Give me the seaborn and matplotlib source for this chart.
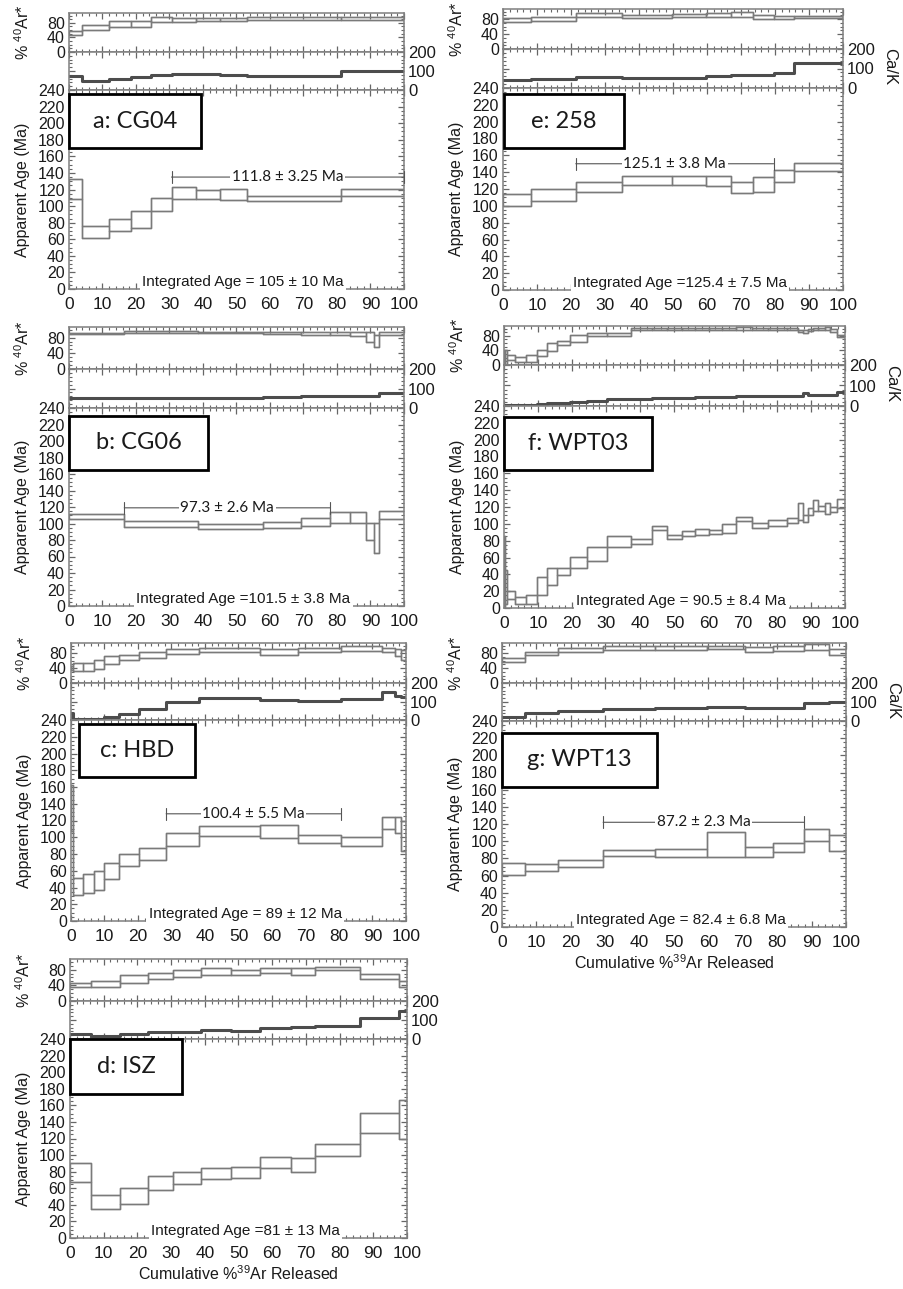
import matplotlib
matplotlib.use("Agg")
import numpy as np
import pandas as pd
import matplotlib.pyplot as plt
import seaborn as sns
from matplotlib.ticker import MultipleLocator, NullFormatter
from matplotlib.patches import Rectangle

sns.set_theme(style="white")
plt.rcParams["font.family"] = ["Liberation Sans", "DejaVu Sans"]
plt.rcParams["mathtext.fontset"] = "custom"
plt.rcParams["mathtext.rm"] = "Liberation Sans"
plt.rcParams["mathtext.it"] = "Liberation Sans:italic"

# ------------------------------------------------------------------ data
# a: CG04
A_EDGES = [0, 4, 12, 18.4, 24.4, 30.6, 37.8, 45.1, 53, 81.2, 100]
A_AGE_HI = [133, 76, 85, 94, 110, 123, 120, 121, 112, 121]
A_AGE_LO = [108, 61, 70, 74, 94, 108, 108, 107, 106, 112]
A_AR_HI = [57, 75, 85, 85, 95, 94, 94, 94, 97, 97]
A_AR_LO = [47, 61, 68, 68, 81, 83, 85, 85, 88, 88]
A_CAK = [75, 50, 57, 66, 77, 85, 82, 77, 75, 99]
A_PLATEAU = ["111.8 ± 3.25 Ma", 30.6, 100, 135]
A_INTEGRATED = "Integrated Age = 105 ± 10 Ma"

# b: CG06
B_EDGES = [0, 16.5, 38.6, 58, 69.4, 78, 83.9, 88.7, 91.0, 92.4, 100]
B_AGE_HI = [112, 103, 99, 102, 107, 114, 114, 101, 101, 115]
B_AGE_LO = [106, 96, 93, 94, 97, 101, 101, 80, 64, 105]
B_AR_HI = [92, 97, 95, 93, 95, 95, 95, 95, 86, 93]
B_AR_LO = [88, 92, 91, 89, 86, 86, 84, 68, 57, 86]
B_CAK = [50, 50, 50, 55, 59, 64, 64, 60, 60, 78]
B_PLATEAU = ["97.3 ± 2.6 Ma", 16.5, 78, 119]
B_INTEGRATED = "Integrated Age =101.5 ± 3.8 Ma"

# c: HBD
C_EDGES = [0, 0.7, 3.6, 6.8, 9.8, 14.4, 20.3, 28.4, 38.3, 56.3, 67.7, 80.5, 92.7, 96.7, 98.5, 100]
C_AGE_HI = [162, 51, 56, 60, 69, 80, 87, 105, 114, 115, 103, 100, 124, 124, 119]
C_AGE_LO = [108, 31, 33, 37, 50, 66, 73, 89, 101, 99, 93, 89, 110, 105, 84]
C_AR_HI = [45, 54, 54, 61, 71, 75, 84, 91, 94, 91, 94, 99, 94, 91, 88]
C_AR_LO = [35, 32, 32, 37, 52, 61, 68, 77, 82, 75, 82, 85, 82, 73, 61]
C_CAK = [40, 4, 3, 5, 14, 32, 59, 98, 120, 109, 105, 116, 150, 130, 123]
C_PLATEAU = ["100.4 ± 5.5 Ma", 28.4, 80.5, 128]
C_INTEGRATED = "Integrated Age = 89 ± 12 Ma"

# d: ISZ
D_EDGES = [0, 6.2, 14.9, 23.0, 30.7, 38.9, 47.7, 56.5, 65.6, 72.6, 86.1, 97.6, 100]
D_AGE_HI = [91, 52, 60, 75, 80, 85, 86, 98, 97, 113, 151, 166]
D_AGE_LO = [68, 35, 41, 58, 65, 71, 72, 85, 79, 99, 127, 119]
D_AR_HI = [45, 52, 65, 72, 78, 83, 80, 83, 83, 87, 68, 50]
D_AR_LO = [35, 35, 46, 56, 62, 67, 67, 72, 67, 80, 56, 36]
D_CAK = [24, 17, 28, 35, 38, 49, 43, 56, 65, 71, 108, 148]
D_PLATEAU = None
D_INTEGRATED = "Integrated Age =81 ± 13 Ma"

# e: 258
E_EDGES = [0, 8.35, 21.4, 35, 49.6, 59.7, 67.1, 73.5, 79.6, 85.5, 100]
E_AGE_HI = [114, 120, 128, 136, 136, 136, 128, 134, 142, 151]
E_AGE_LO = [100, 106, 116, 125, 125, 124, 115, 117, 128, 141]
E_AR_HI = [83, 86, 96, 92, 94, 95, 98, 92, 87, 89]
E_AR_LO = [71, 75, 85, 83, 85, 85, 86, 80, 80, 82]
E_CAK = [43, 48, 56, 53, 51, 63, 65, 67, 77, 128]
E_PLATEAU = ["125.1 ± 3.8 Ma", 21.4, 79.6, 150]
E_INTEGRATED = "Integrated Age =125.4 ± 7.5 Ma"

# f: WPT03
F_EDGES = [0, 0.4, 0.9, 3.3, 6.45, 9.8, 12.7, 15.6, 19.5, 24.2, 30.3, 37.1, 43.3, 47.7,
           52.1, 56.0, 60.2, 63.8, 68.0, 72.6, 77.5, 82.9, 86.3, 87.8, 89.2, 90.7,
           92.2, 94.1, 95.6, 97.8, 100]
F_AGE_HI = [85, 45, 20, 13, 16, 37, 47, 48, 61, 72, 86, 82, 98, 87, 92, 94, 93, 100,
            108, 101, 105, 107, 125, 111, 119, 128, 121, 125, 120, 129]
F_AGE_LO = [0, 5, 11, 5, 5, 16, 27, 39, 47, 56, 72, 76, 93, 82, 85, 87, 88, 89, 103,
            95, 97, 101, 105, 102, 110, 115, 115, 112, 114, 119]
F_AR_HI = [40, 40, 28, 23, 28, 41, 61, 67, 83, 89, 87, 101, 102, 101, 102, 101, 102,
           101, 103, 102, 102, 101, 97, 96, 99, 101, 102, 103, 100, 83]
F_AR_LO = [0, 0, 13, 7, 9, 25, 39, 55, 64, 80, 80, 95, 96, 95, 96, 95, 96, 95, 97, 96,
           96, 95, 90, 89, 92, 95, 96, 97, 90, 76]
F_CAK = [5, 5, 5, 5, 5, 8, 13, 13, 21, 26, 33, 34, 41, 41, 41, 46, 46, 46, 49, 49, 49,
         50, 50, 62, 55, 55, 56, 56, 56, 67]
F_PLATEAU = None
F_INTEGRATED = "Integrated Age = 90.5 ± 8.4 Ma"

# g: WPT13
G_EDGES = [0, 6.6, 16.3, 29.4, 44.6, 59.6, 70.6, 78.9, 87.9, 95.0, 100]
G_AGE_HI = [75, 73, 78, 90, 91, 111, 93, 98, 114, 107]
G_AGE_LO = [61, 65, 70, 83, 82, 82, 82, 87, 100, 88]
G_AR_HI = [68, 84, 93, 98, 98, 100, 95, 98, 105, 91]
G_AR_LO = [55, 75, 84, 89, 89, 91, 84, 85, 89, 75]
G_CAK = [23, 41, 55, 64, 67, 74, 71, 71, 94, 99]
G_PLATEAU = ["87.2 ± 2.3 Ma", 29.4, 87.9, 122]
G_INTEGRATED = "Integrated Age = 82.4 ± 6.8 Ma"

SAMPLE_LABELS = ["a: CG04", "b: CG06", "c: HBD", "d: ISZ", "e: 258", "f: WPT03", "g: WPT13"]
X_TICKS = [0, 10, 20, 30, 40, 50, 60, 70, 80, 90, 100]
AGE_TICKS = list(range(0, 241, 20))
AR_TICKS = [0, 40, 80]
CAK_TICKS = [0, 100, 200]

PANEL_DATA = [
    (A_EDGES, A_AGE_LO, A_AGE_HI, A_AR_LO, A_AR_HI, A_CAK, A_PLATEAU, A_INTEGRATED),
    (B_EDGES, B_AGE_LO, B_AGE_HI, B_AR_LO, B_AR_HI, B_CAK, B_PLATEAU, B_INTEGRATED),
    (C_EDGES, C_AGE_LO, C_AGE_HI, C_AR_LO, C_AR_HI, C_CAK, C_PLATEAU, C_INTEGRATED),
    (D_EDGES, D_AGE_LO, D_AGE_HI, D_AR_LO, D_AR_HI, D_CAK, D_PLATEAU, D_INTEGRATED),
    (E_EDGES, E_AGE_LO, E_AGE_HI, E_AR_LO, E_AR_HI, E_CAK, E_PLATEAU, E_INTEGRATED),
    (F_EDGES, F_AGE_LO, F_AGE_HI, F_AR_LO, F_AR_HI, F_CAK, F_PLATEAU, F_INTEGRATED),
    (G_EDGES, G_AGE_LO, G_AGE_HI, G_AR_LO, G_AR_HI, G_CAK, G_PLATEAU, G_INTEGRATED),
]

# ------------------------------------------------------------------ layout (pixels)
W, H = 904, 1289
# x0, x1, top, ar_bottom, cak_bottom, age_bottom
LAYOUT = [
    (69, 404, 13, 52, 90, 289),
    (69, 404, 327, 369, 408, 606),
    (71, 406, 643, 683, 720, 921),
    (70, 407, 959, 1001, 1039, 1238),
    (503, 843, 9, 49, 88, 290),
    (504, 845, 326, 365, 406, 608),
    (502, 846, 643, 683, 721, 927),
]
BOXES = [
    (69, 94, 201, 148),
    (69, 416, 208, 470),
    (79, 724, 195, 777),
    (70, 1039, 182, 1094),
    (504, 94, 624, 148),
    (504, 417, 652, 470),
    (502, 733, 657, 787),
]
SHOW_XLABEL = [False, False, False, True, False, False, True]
SHOW_CAK_LABEL = [False, False, False, False, True, True, True]

LINE = "#7a7a7a"
SPINE = "#7f7f7f"
TXT = "#1a1a1a"

fig = plt.figure(figsize=(W / 100, H / 100), dpi=100)
fig.patch.set_facecolor("white")


def px_rect(x0, x1, yt, yb):
    return [x0 / W, 1 - yb / H, (x1 - x0) / W, (yb - yt) / H]


def boxes_frame(edges, lo, hi):
    rows = []
    for i in range(len(lo)):
        x0, x1 = edges[i], edges[i + 1]
        for x, y in [(x0, lo[i]), (x0, hi[i]), (x1, hi[i]), (x1, lo[i]), (x0, lo[i])]:
            rows.append((i, x, y))
    return pd.DataFrame(rows, columns=["step", "x", "y"])


def draw_spectrum(ax, edges, lo, hi, color, lw):
    # each heating step as a box
    sns.lineplot(data=boxes_frame(edges, lo, hi), x="x", y="y", units="step",
                 estimator=None, sort=False, color=color, lw=lw, ax=ax, legend=False)
    # upper and lower envelopes joined as step lines
    for vals in (hi, lo):
        df = pd.DataFrame({"x": edges, "y": list(vals) + [vals[-1]]})
        sns.lineplot(data=df, x="x", y="y", estimator=None, sort=False, color=color,
                     lw=lw, drawstyle="steps-post", ax=ax, legend=False)


def style(ax, ymajor, yminor):
    ax.set_xlim(0, 100)
    ax.xaxis.set_major_locator(MultipleLocator(10))
    ax.xaxis.set_minor_locator(MultipleLocator(2))
    ax.yaxis.set_major_locator(MultipleLocator(ymajor))
    ax.yaxis.set_minor_locator(MultipleLocator(yminor))
    for sp in ax.spines.values():
        sp.set_color(SPINE)
        sp.set_linewidth(1.1)
        sp.set_visible(True)
    ax.tick_params(which="both", direction="in", top=True, bottom=True, left=True,
                   right=True, color="#666666", labelcolor=TXT, labelsize=11.5)
    ax.tick_params(which="major", length=4, width=0.9)
    ax.tick_params(which="minor", length=2.2, width=0.8)
    ax.set_facecolor("white")
    ax.grid(False)


for k, (data, lay) in enumerate(zip(PANEL_DATA, LAYOUT)):
    edges, age_lo, age_hi, ar_lo, ar_hi, cak, plateau, integrated = data
    x0, x1, top, arb, cakb, ageb = lay

    ax_ar = fig.add_axes(px_rect(x0, x1, top, arb))
    ax_ck = fig.add_axes(px_rect(x0, x1, arb, cakb))
    ax_ag = fig.add_axes(px_rect(x0, x1, cakb, ageb))

    # % 40Ar*
    draw_spectrum(ax_ar, edges, ar_lo, ar_hi, LINE, 1.0)
    ax_ar.set_ylim(0, 107)
    style(ax_ar, 40, 10)
    ax_ar.set_yticks(AR_TICKS)
    ax_ar.xaxis.set_major_formatter(NullFormatter())
    ax_ar.tick_params(labelbottom=False, pad=3)
    ax_ar.set_xlabel("")
    ax_ar.set_ylabel(r"% $^{\mathrm{40}}$Ar*", fontsize=11.5, color=TXT)
    ax_ar.yaxis.label.set_va("center")
    ax_ar.yaxis.set_label_coords(-46 / (x1 - x0), 0.5)

    # Ca/K
    cak_df = pd.DataFrame({"x": edges, "y": list(cak) + [cak[-1]]})
    sns.lineplot(data=cak_df, x="x", y="y", estimator=None, sort=False, color="#4d4d4d",
                 lw=2.2, drawstyle="steps-post", ax=ax_ck, legend=False)
    ax_ck.set_ylim(0, 200)
    style(ax_ck, 100, 20)
    ax_ck.set_yticks(CAK_TICKS)
    ax_ck.tick_params(labelbottom=False, labelleft=False, labelright=True, pad=3)
    ax_ck.tick_params(axis="y", labelsize=12)
    ax_ck.set_xlabel("")
    ax_ck.set_ylabel("")
    if SHOW_CAK_LABEL[k]:
        ax_ck.text(1 + 47 / (x1 - x0), 0.55, "Ca/K", transform=ax_ck.transAxes,
                   rotation=-90, ha="center", va="center", fontsize=12, color=TXT)

    # Apparent age spectrum
    draw_spectrum(ax_ag, edges, age_lo, age_hi, LINE, 1.0)
    ax_ag.set_ylim(0, 240)
    style(ax_ag, 20, 5)
    ax_ag.set_yticks(AGE_TICKS)
    ax_ag.set_xticks(X_TICKS)
    ax_ag.tick_params(axis="x", pad=6, labelsize=12.5)
    ax_ag.tick_params(axis="y", pad=3)
    ax_ag.set_ylabel("Apparent Age (Ma)", fontsize=11.5, color=TXT)
    ax_ag.yaxis.label.set_va("center")
    ax_ag.yaxis.set_label_coords(-46 / (x1 - x0), 0.5)
    if SHOW_XLABEL[k]:
        ax_ag.set_xlabel(r"Cumulative %$^{\mathrm{39}}$Ar Released", fontsize=11.5,
                         color=TXT, labelpad=2)
    else:
        ax_ag.set_xlabel("")

    if plateau is not None:
        label, p0, p1, level = plateau
        ax_ag.annotate("", xy=(p0, level), xytext=(p1, level),
                       arrowprops=dict(arrowstyle="|-|,widthA=0.35,widthB=0.35",
                                       color="#555555", lw=0.8, shrinkA=0, shrinkB=0))
        ax_ag.text((p0 + p1) / 2, level, label, ha="center", va="center",
                   fontsize=11, family=["Lato", "DejaVu Sans"], color=TXT,
                   bbox=dict(boxstyle="square,pad=0.1", fc="white", ec="none"))

    ax_ag.text(52, 4, integrated, ha="center", va="baseline", fontsize=11,
               color=TXT, zorder=5, clip_on=False,
               bbox=dict(boxstyle="square,pad=0.15", fc="white", ec="none"))

    # sample label box
    bx0, by0, bx1, by1 = BOXES[k]
    fig.add_artist(Rectangle((bx0 / W, 1 - by1 / H), (bx1 - bx0) / W, (by1 - by0) / H,
                             transform=fig.transFigure, fc="white", ec="black",
                             lw=2.0, zorder=10))
    fig.text((bx0 + bx1) / 2 / W, 1 - (by0 + by1) / 2 / H, SAMPLE_LABELS[k],
             ha="center", va="center", fontsize=17, family=["Lato", "DejaVu Sans"],
             color=TXT, zorder=11)

fig.savefig("out.png", dpi=100, facecolor="white")
